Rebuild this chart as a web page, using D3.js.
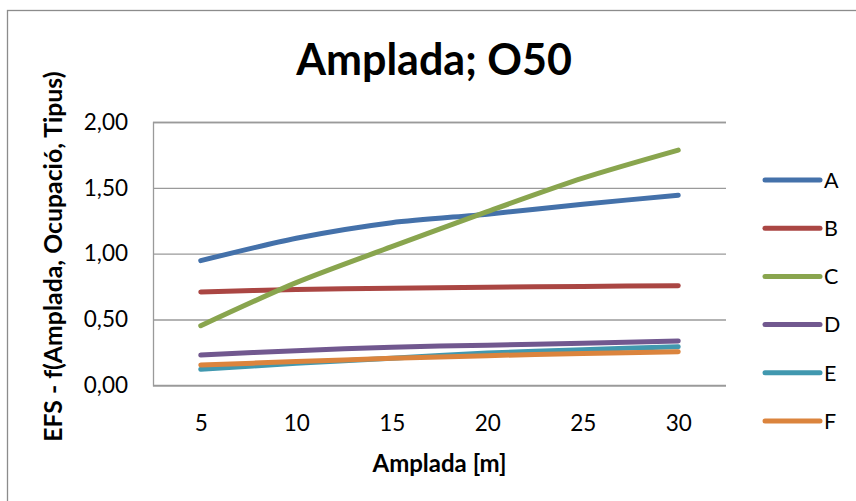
<!DOCTYPE html>
<html>
<head>
<meta charset="utf-8">
<script src="https://cdn.jsdelivr.net/npm/d3@7"></script>
<style>
  html, body { margin: 0; padding: 0; background: #fff; }
  svg { display: block; font-family: Lato, "Open Sans", sans-serif; }
</style>
</head>
<body>
<svg id="chart" width="856" height="501"></svg>
<script>
// Amplada (width, m) categories on the x axis
const categories = ["5", "10", "15", "20", "25", "30"];

// EFS values per series
const seriesNames = ["A", "B", "C", "D", "E", "F"];
const valuesA = [0.947, 1.117, 1.235, 1.300, 1.375, 1.444];
const valuesB = [0.709, 0.727, 0.737, 0.745, 0.751, 0.757];
const valuesC = [0.453, 0.780, 1.053, 1.319, 1.573, 1.786];
const valuesD = [0.230, 0.263, 0.289, 0.305, 0.319, 0.337];
const valuesE = [0.122, 0.167, 0.205, 0.245, 0.270, 0.293];
const valuesF = [0.154, 0.180, 0.205, 0.225, 0.242, 0.255];

const yTicks = [0, 0.5, 1.0, 1.5, 2.0];

const colors = ["#4471AA", "#AA4643", "#89A54E", "#71588F", "#4198AF", "#DB843D"];

const series = seriesNames.map((name, i) => ({
  name,
  color: colors[i],
  values: [valuesA, valuesB, valuesC, valuesD, valuesE, valuesF][i]
}));

const svg = d3.select("#chart");

// outer chart frame
svg.append("rect")
  .attr("x", 7.5).attr("y", 10.5)
  .attr("width", 900).attr("height", 600)
  .attr("fill", "#fff")
  .attr("stroke", "#8c8c8c")
  .attr("stroke-width", 1.3);

const plot = { left: 153, right: 726, top: 122, bottom: 385.3 };

const x = d3.scalePoint()
  .domain(categories)
  .range([plot.left, plot.right])
  .padding(0.5);

const y = d3.scaleLinear()
  .domain([0, 2])
  .range([plot.bottom, plot.top]);

// horizontal gridlines + y labels
const yAxis = d3.axisLeft(y)
  .tickValues(yTicks)
  .tickSize(-(plot.right - plot.left))
  .tickPadding(25)
  .tickFormat(d => d3.format(".2f")(d).replace(".", ","));

const gy = svg.append("g")
  .attr("transform", `translate(${plot.left},0)`)
  .call(yAxis);
gy.select(".domain").attr("stroke", "#9a9a9a").attr("stroke-width", 1.3);
gy.selectAll(".tick line").attr("stroke", "#9a9a9a").attr("stroke-width", 1.3);
gy.selectAll(".tick text")
  .attr("fill", "#000")
  .style("font-size", "22.5px")
  .style("font-family", "Lato, sans-serif");

// x axis
const xAxis = d3.axisBottom(x).tickSize(0).tickPadding(30);
const gx = svg.append("g")
  .attr("transform", `translate(0,${plot.bottom})`)
  .call(xAxis);
gx.select(".domain")
  .attr("d", `M${plot.left},0H${plot.right}`)
  .attr("stroke", "#9a9a9a").attr("stroke-width", 1.3);
gx.selectAll(".tick text")
  .attr("fill", "#000")
  .style("font-size", "22.5px")
  .style("font-family", "Lato, sans-serif");

// series lines
const line = d3.line()
  .x((d, i) => x(categories[i]))
  .y(d => y(d))
  .curve(d3.curveCardinal.tension(0.2));

svg.append("g")
  .selectAll("path")
  .data(series)
  .join("path")
  .attr("d", d => line(d.values))
  .attr("fill", "none")
  .attr("stroke", d => d.color)
  .attr("stroke-width", 5)
  .attr("stroke-linecap", "round")
  .attr("stroke-linejoin", "round");

// legend
const legend = svg.append("g");
const legendItems = legend.selectAll("g")
  .data(series)
  .join("g")
  .attr("transform", (d, i) => `translate(765,${180 + i * 48.2})`);
legendItems.append("line")
  .attr("x1", 0).attr("x2", 55)
  .attr("stroke", d => d.color)
  .attr("stroke-width", 5)
  .attr("stroke-linecap", "round");
legendItems.append("text")
  .attr("x", 59).attr("y", 0)
  .attr("dy", "0.36em")
  .style("font-size", "21.5px")
  .text(d => d.name);

// titles
svg.append("text")
  .attr("x", 434).attr("y", 75)
  .attr("text-anchor", "middle")
  .style("font-size", "43px")
  .style("font-weight", "bold")
  .text("Amplada; O50");

svg.append("text")
  .attr("x", (plot.left + plot.right) / 2).attr("y", 472)
  .attr("text-anchor", "middle")
  .style("font-size", "24px")
  .style("font-weight", "bold")
  .text("Amplada [m]");

svg.append("text")
  .attr("transform", `translate(62,${(plot.top + plot.bottom) / 2 + 3}) rotate(-90)`)
  .attr("text-anchor", "middle")
  .style("font-size", "24.8px")
  .style("font-weight", "bold")
  .text("EFS - f(Amplada, Ocupació, Tipus)");
</script>
</body>
</html>
